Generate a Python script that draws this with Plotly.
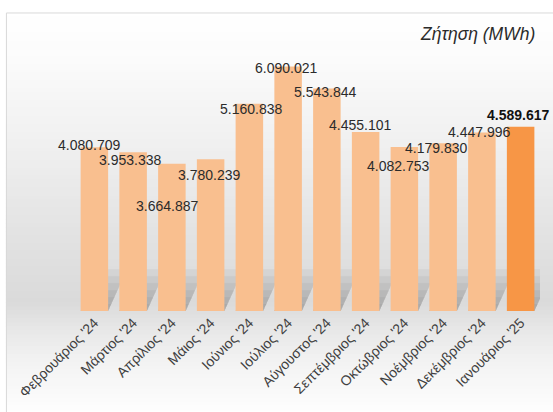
import plotly.graph_objects as go

# ---- data ----
months = ["Φεβρουάριος '24", "Μάρτιος '24", "Απρίλιος '24", "Μάιος '24", "Ιούνιος '24",
          "Ιούλιος '24", "Αύγουστος '24", "Σεπτέμβριος '24", "Οκτώβριος '24",
          "Νοέμβριος '24", "Δεκέμβριος '24", "Ιανουάριος '25"]
demand = [4080709, 3953338, 3664887, 3780239, 5160838, 6090021,
          5543844, 4455101, 4082753, 4179830, 4447996, 4589617]
label_texts = ["4.080.709", "3.953.338", "3.664.887", "3.780.239", "5.160.838", "6.090.021",
               "5.543.844", "4.455.101", "4.082.753", "4.179.830", "4.447.996", "4.589.617"]
title_text = "Ζήτηση (MWh)"

# ---- style ----
W_FIG, H_FIG = 553, 412
L, R, T, B = 75.1, 12.7, 49.8, 99.3
PW = W_FIG - L - R
PH = H_FIG - T - B
YMAX = 6500000
light, dark = "#F9BF8F", "#F79646"
bar_colors = [light] * (len(months) - 1) + [dark]
label_dx = [-5.5, -3.3, -5.3, -2.0, 1.3, -2.4, -2.1, -5.8, -5.9, -7.5, -3.3, -2.6]
label_dy = [2.3, -7.7, -41.7, -15.7, -5.3, -1.3, -4.0, 7.5, -18.7, -5.2, 0.0, 11.7]
FONT = "Liberation Sans, Arial, sans-serif"

def px_to_paper_x(px):
    return (px - L) / PW

def px_to_paper_y(py):
    return (H_FIG - B - py) / PH

def hex_to_rgb(h):
    h = h.lstrip("#")
    return tuple(int(h[i:i + 2], 16) for i in (0, 2, 4))

grad_stops = [(12, "#ffffff"), (60, "#fbfbfb"), (150, "#efefef"), (240, "#e2e2e2"),
              (305, "#dadada"), (325, "#e5e5e5"), (365, "#f3f3f3"), (412, "#fdfdfd")]

def grad_color(py):
    for (y0, c0), (y1, c1) in zip(grad_stops[:-1], grad_stops[1:]):
        if y0 <= py <= y1:
            t = (py - y0) / (y1 - y0)
            a, b = hex_to_rgb(c0), hex_to_rgb(c1)
            return "rgb(%d,%d,%d)" % tuple(round(a[k] + (b[k] - a[k]) * t) for k in range(3))
    return grad_stops[-1][1]

shapes = []
step = 4
py = 12
while py < H_FIG:
    shapes.append(dict(type="rect", xref="paper", yref="paper", layer="below",
                       x0=px_to_paper_x(6), x1=px_to_paper_x(W_FIG + 5),
                       y0=px_to_paper_y(py), y1=px_to_paper_y(py + step + 1),
                       fillcolor=grad_color(py + step / 2), line=dict(width=0)))
    py += step
# frame
shapes.append(dict(type="rect", xref="paper", yref="paper", layer="below",
                   x0=px_to_paper_x(6.5), x1=px_to_paper_x(W_FIG + 10),
                   y0=px_to_paper_y(H_FIG + 10), y1=px_to_paper_y(12.5),
                   fillcolor="rgba(0,0,0,0)", line=dict(color="#d9d9d9", width=1)))

# bar shadows on the wall (decorative)
half = 0.355
px_per_unit = PH / YMAX
cat_px = PW / len(months)
for i in range(len(months)):
    for k in range(1, 7):
        hpx = 7 * k
        h = hpx / px_per_unit
        dx = hpx * 0.45 / cat_px
        shapes.append(dict(type="path", xref="x", yref="y", layer="below",
                           path="M %f,0 L %f,0 L %f,%f L %f,%f Z" % (
                               i - half, i + half, i + half + dx, h, i - half + dx, h),
                           fillcolor="rgba(100,100,100,0.075)", line=dict(width=0)))

fig = go.Figure(go.Bar(x=months, y=demand, marker=dict(color=bar_colors, line=dict(width=0)),
                       width=0.71, hoverinfo="skip"))

annotations = []
for i, (m, v, t) in enumerate(zip(months, demand, label_texts)):
    bold = i == len(months) - 1
    annotations.append(dict(x=m, y=v, xref="x", yref="y", text=("<b>%s</b>" % t) if bold else t,
                            showarrow=False, xanchor="center", yanchor="middle",
                            xshift=label_dx[i], yshift=label_dy[i],
                            font=dict(family=FONT, size=14, color="#111111" if bold else "#2b2b2b")))
annotations.append(dict(x=px_to_paper_x(478), y=px_to_paper_y(34), xref="paper", yref="paper",
                        text="<i>%s</i>" % title_text, showarrow=False,
                        xanchor="center", yanchor="middle",
                        font=dict(family=FONT, size=17.5, color="#2b2b2b")))

fig.update_layout(
    width=W_FIG, height=H_FIG,
    margin=dict(l=L, r=R, t=T, b=B, pad=0),
    paper_bgcolor="white", plot_bgcolor="rgba(0,0,0,0)",
    showlegend=False, shapes=shapes, annotations=annotations,
    xaxis=dict(type="category", range=[-0.5, len(months) - 0.5], tickangle=-45,
               showgrid=False, zeroline=False, showline=False, ticks="",
               tickfont=dict(family=FONT, size=14, color="#404040")),
    yaxis=dict(range=[0, YMAX], visible=False, showgrid=False, zeroline=False),
)
fig.write_html("out.html", config={"displayModeBar": False},
               post_script="document.body.style.margin='0';")
